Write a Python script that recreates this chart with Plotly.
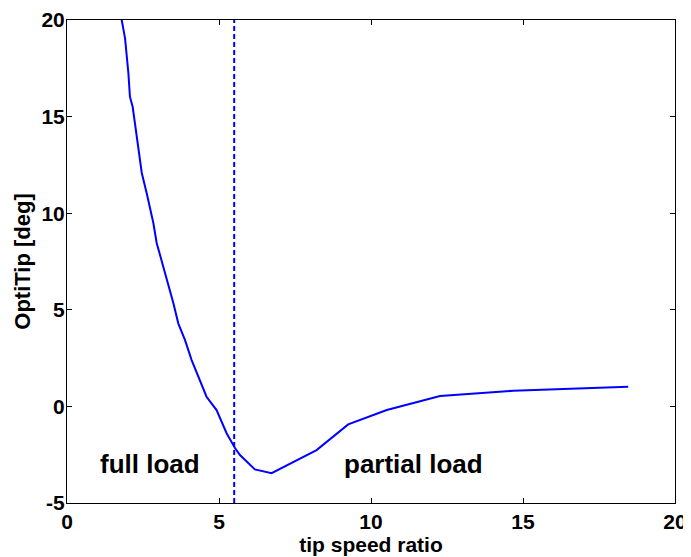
import plotly.graph_objects as go

tsr = [1.74, 1.80, 1.85, 1.91, 2.02, 2.07, 2.16, 2.40, 2.46, 2.62, 2.84, 2.95, 3.17, 3.33, 3.50,
       3.66, 3.88, 4.10, 4.32, 4.59, 4.92, 5.25, 5.53, 5.69, 6.18, 6.73, 8.21, 9.25, 10.52,
       12.27, 14.68, 18.46]
optitip = [20.3, 20.0, 19.57, 19.05, 17.24, 16.03, 15.51, 12.60, 12.08, 11.05, 9.49, 8.46, 7.22,
           6.30, 5.34, 4.30, 3.44, 2.40, 1.54, 0.50, -0.19, -1.39, -2.17, -2.52, -3.26, -3.46,
           -2.26, -0.93, -0.19, 0.54, 0.81, 1.02]

limit_tsr = [5.5, 5.5]
limit_y = [-5, 20]

x_ticks = [0, 5, 10, 15, 20]
y_ticks = [-5, 0, 5, 10, 15, 20]

labels = ["full load", "partial load"]
label_x = [2.72, 11.40]
label_y = [-3.0, -3.0]

FONT = "Liberation Sans, Arial, Helvetica, sans-serif"

fig = go.Figure()
fig.add_trace(go.Scatter(x=tsr, y=optitip, mode="lines",
                         line=dict(color="#0000FF", width=2), showlegend=False))
fig.add_trace(go.Scatter(x=limit_tsr, y=limit_y, mode="lines",
                         line=dict(color="#0000FF", width=2, dash="5px,3px"), showlegend=False))

for t, xx, yy in zip(labels, label_x, label_y):
    fig.add_annotation(x=xx, y=yy, text=t, showarrow=False,
                       font=dict(family=FONT, size=26, color="black", weight="bold"),
                       xanchor="center", yanchor="middle")

axis_common = dict(showline=True, linecolor="black", linewidth=1, mirror="ticks",
                   ticks="inside", ticklen=5, tickcolor="black", tickwidth=1,
                   showgrid=False, zeroline=False,
                   tickfont=dict(family=FONT, size=21, color="black", weight="bold"))

fig.update_xaxes(range=[0, 20], tickvals=x_ticks, ticktext=[str(v) for v in x_ticks],
                 title=dict(text="tip speed ratio", standoff=2,
                            font=dict(family=FONT, size=21, color="black", weight="bold")),
                 **axis_common)
fig.update_yaxes(range=[-5, 20], tickvals=y_ticks, ticktext=[str(v) for v in y_ticks],
                 ticklabelstandoff=-3,
                 title=dict(text="OptiTip [deg]", standoff=4,
                            font=dict(family=FONT, size=22, color="black", weight="bold")),
                 **axis_common)

fig.update_layout(width=683, height=549, plot_bgcolor="white", paper_bgcolor="white",
                  margin=dict(l=59, r=16, t=12, b=54, autoexpand=False))

fig.write_html("out.html")
